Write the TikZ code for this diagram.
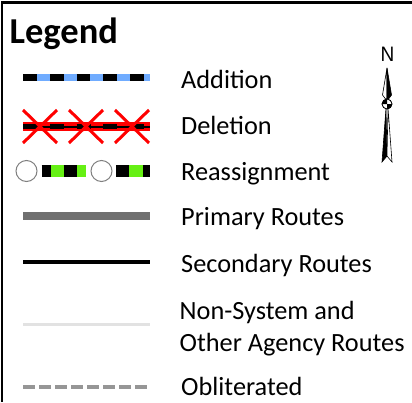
\documentclass[tikz,border=0pt]{standalone}
\usepackage{fontspec}
\setmainfont{Carlito}
\newfontfamily\arialfont{Liberation Sans}
\definecolor{addblue}{RGB}{112,172,255}
\definecolor{delred}{RGB}{255,0,0}
\definecolor{regreen}{RGB}{102,240,20}
\definecolor{primgray}{RGB}{112,112,112}
\definecolor{nsgray}{RGB}{226,226,226}
\definecolor{oblgray}{RGB}{150,150,150}
\definecolor{circgray}{RGB}{128,128,128}
\begin{document}
\begin{tikzpicture}[x=1pt,y=-1pt,
  lbl/.style={anchor=base west, inner sep=0pt, font=\fontsize{26.3}{30}\selectfont},
  addline/.style={line width=7pt, addblue},
  adddash/.style={line width=7pt, black},
  delline/.style={line width=9pt, delred},
  delthin/.style={line width=2pt, black},
  deldash/.style={line width=5pt, black},
  delx/.style={line width=3pt, delred},
  reseg/.style={line width=12pt},
  recirc/.style={circle, draw=circgray, line width=1pt, fill=white, minimum size=21pt, inner sep=0pt},
  primline/.style={line width=8pt, primgray},
  secline/.style={line width=4pt, black},
  nsline/.style={line width=3.5pt, nsgray},
  oblline/.style={line width=4pt, oblgray, dash pattern=on 11.7pt off 4.3pt},
  needle/.style={line width=0.6pt, black, line join=miter}
]
\useasboundingbox (0,0) rectangle (412,402);
\fill[white] (0,0) rectangle (412,402);
% frame
\draw[line width=2.5pt] (412,2.5) -- (2,2.5) -- (2,402);
% title
\node[anchor=base west, inner sep=0pt, font=\bfseries\fontsize{36.5}{40}\selectfont] (title) at (9.5,43) {Legend};

% Addition
\coordinate (a1) at (23,77); \coordinate (a2) at (150,77);
\draw[addline] (a1) -- (a2);
\foreach \sx in {23,50,76.5,103,130}{
  \draw[adddash] (\sx,77) -- (\sx+13.5,77);
}
\node[lbl] (laddition) at (181,88) {Addition};

% Deletion
\coordinate (d1) at (23,126.5); \coordinate (d2) at (150,126.5);
\draw[delline] (d1) -- (d2);
\draw[delthin] (d1) -- (d2);
\foreach \sx in {23,50,76.5,103,130}{
  \draw[deldash] (\sx,126.5) -- (\sx+14,126.5);
}
\foreach \cx in {40,86,132}{
  \draw[delx] (\cx-17,110) -- (\cx+17,143);
  \draw[delx] (\cx-17,143) -- (\cx+17,110);
}
\node[lbl] (ldeletion) at (181,134.5) {Deletion};

% Reassignment
\draw[reseg, black] (41.5,171) -- (51,171);
\draw[reseg, regreen] (51,171) -- (63.5,171);
\draw[reseg, black] (63.5,171) -- (77,171);
\draw[reseg, regreen] (77,171) -- (86,171);
\draw[reseg, black] (116,171) -- (129,171);
\draw[reseg, regreen] (129,171) -- (143,171);
\draw[reseg, black] (143,171) -- (150,171);
\node[recirc] (rc1) at (26.5,171) {};
\node[recirc] (rc2) at (101.5,171) {};
\node[lbl] (lreassign) at (181,180.5) {Reassignment};

% Primary
\coordinate (p1) at (23,216); \coordinate (p2) at (150,216);
\draw[primline] (p1) -- (p2);
\node[lbl] (lprimary) at (181,225.5) {Primary Routes};

% Secondary
\coordinate (s1) at (23,262); \coordinate (s2) at (150,262);
\draw[secline] (s1) -- (s2);
\node[lbl] (lsecondary) at (181,272) {Secondary Routes};

% Non-system
\coordinate (n1) at (23,324.5); \coordinate (n2) at (150,324.5);
\draw[nsline] (n1) -- (n2);
\node[lbl] (lnonsys1) at (179.5,319.3) {Non-System and};
\node[lbl] (lnonsys2) at (179.5,351.7) {Other Agency Routes};

% Obliterated
\coordinate (o1) at (23,387); \coordinate (o2) at (150,387);
\draw[oblline] (o1) -- (o2);
\node[lbl] (lobliterated) at (181,395) {Obliterated};

% North arrow
\node[anchor=base, inner sep=0pt, font=\arialfont\fontsize{19}{22}\selectfont, yscale=1.1] (northN) at (387.5,61.7) {N};
\filldraw[needle, fill=white] (387,68) -- (382.5,95) -- (385.5,99) -- (387,99) -- cycle;
\filldraw[needle, fill=black] (387,68) -- (391.5,95) -- (388.5,99) -- (387,99) -- cycle;
\filldraw[needle, fill=black] (386,108) -- (382,162) -- (387,156) -- cycle;
\filldraw[needle, fill=white] (388,108) -- (392,162) -- (387,156) -- cycle;
\filldraw[needle, fill=white] (387,104) circle[radius=5pt];
\fill[black] (387,104) -- (387,99) arc[start angle=90, end angle=180, radius=5pt] -- cycle;
\fill[black] (387,104) -- (387,109) arc[start angle=270, end angle=360, radius=5pt] -- cycle;
\draw[needle] (387,104) circle[radius=5pt];
\end{tikzpicture}
\end{document}
